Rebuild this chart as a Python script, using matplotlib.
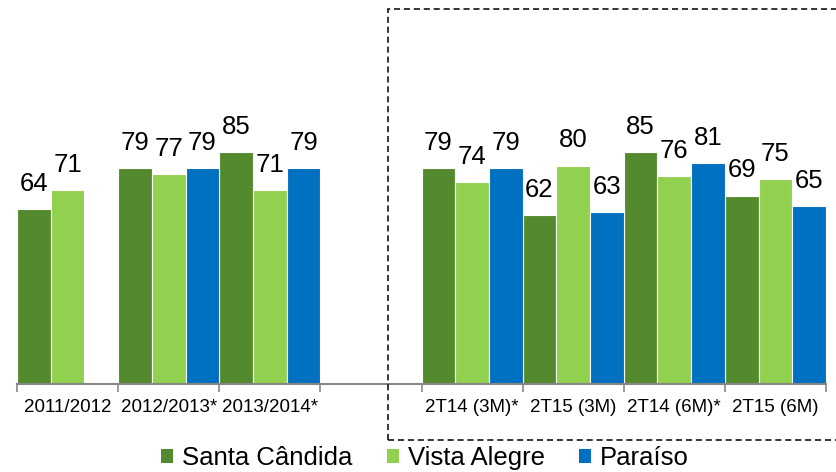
import numpy as np
import matplotlib.pyplot as plt
from matplotlib.patches import Patch, Rectangle

plt.rcParams['font.family'] = ['Liberation Sans', 'DejaVu Sans']

# categories (empty slot separates the yearly and quarterly blocks)
categories = ['2011/2012', '2012/2013*', '2013/2014*', '',
              '2T14 (3M)*', '2T15 (3M)', '2T14 (6M)*', '2T15 (6M)']
santa_candida = [64, 79, 85, np.nan, 79, 62, 85, 69]
vista_alegre = [71, 77, 71, np.nan, 74, 80, 76, 75]
paraiso = [np.nan, 79, 79, np.nan, 79, 63, 81, 65]

series_names = ['Santa Cândida', 'Vista Alegre', 'Paraíso']
colors = ['#548A2E', '#92D050', '#0070C0']

fig = plt.figure(figsize=(8.36, 4.72), dpi=100)
ax = fig.add_axes([17 / 836, 88 / 472, 809 / 836, 384 / 472])

x = np.arange(len(categories))
bar_width = 1 / 3
for i, (vals, c) in enumerate(zip([santa_candida, vista_alegre, paraiso], colors)):
    pos = x - 0.5 + bar_width * (i + 0.5)
    ax.bar(pos, vals, width=bar_width, color=c, edgecolor='white', linewidth=0.8)
    for p, v in zip(pos, vals):
        if np.isnan(v):
            continue
        ax.annotate(f'{v:.0f}', (p, v), xytext=(0, 13), textcoords='offset points',
                    ha='center', va='baseline', fontsize=18.5)

ax.set_xlim(-0.5, len(categories) - 0.5)
ax.set_ylim(0, 140.6)

# labels at centers, tick marks at group boundaries
ax.set_xticks(x)
ax.set_xticklabels(categories, fontsize=13.5)
ax.tick_params(axis='x', which='major', length=0, pad=10.5)
ax.set_xticks(np.arange(-0.5, len(categories)), minor=True)
ax.tick_params(axis='x', which='minor', length=6, width=1.2, color='#878787', direction='out')
ax.set_yticks([])

for side in ['top', 'right', 'left']:
    ax.spines[side].set_visible(False)
ax.spines['bottom'].set_color('#878787')
ax.spines['bottom'].set_linewidth(1.5)

# dashed box around the quarterly block
fig.patches.append(Rectangle((388 / 836, 32 / 472), 460 / 836, 431 / 472,
                             transform=fig.transFigure, fill=False, edgecolor='black',
                             linewidth=1.1, linestyle=(0, (4, 2.5))))

handles = [Patch(facecolor=c, label=n) for n, c in zip(series_names, colors)]
fig.legend(handles=handles, loc='center', bbox_to_anchor=(425 / 836, 14 / 472), ncol=3,
           frameon=False, fontsize=18.5, handlelength=0.45, handleheight=0.45,
           handletextpad=0.35, columnspacing=1.35, borderpad=0, borderaxespad=0)

fig.savefig('out.png', dpi=100)
